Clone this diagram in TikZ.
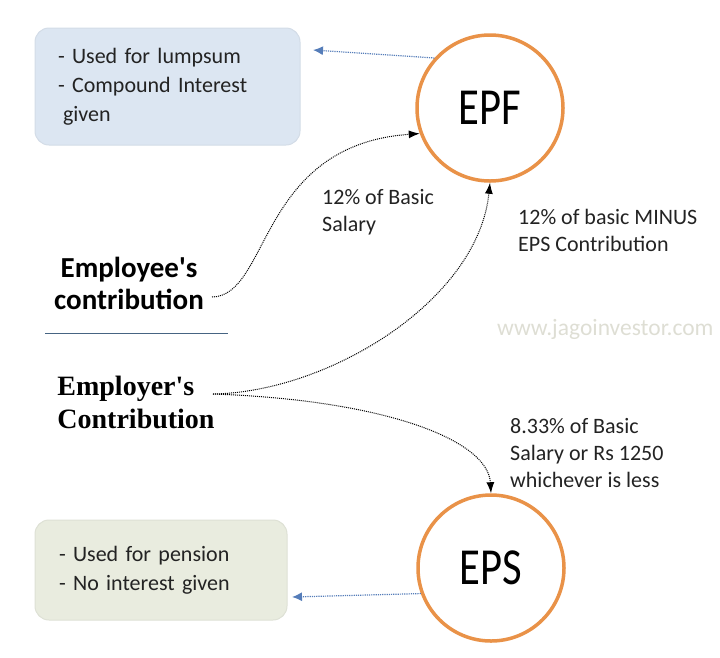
\documentclass[tikz,border=0pt]{standalone}
\usepackage{fontspec}
\setmainfont{Carlito}
\newfontfamily\serifb{Liberation Serif}
\newfontfamily\narrow[FakeStretch=0.82]{Carlito}
\usetikzlibrary{arrows.meta}
\definecolor{ring}{RGB}{233,146,72}
\definecolor{bluebox}{RGB}{220,230,242}
\definecolor{greenbox}{RGB}{233,236,223}
\definecolor{bluearrow}{RGB}{85,125,185}
\definecolor{rule}{RGB}{70,100,130}
\definecolor{wm}{RGB}{222,222,212}
\definecolor{txt}{RGB}{35,35,35}
\tikzset{
  fund/.style={circle,draw=ring,line width=3.5pt,minimum size=146pt,inner sep=0pt,font=\narrow\fontsize{52}{52}\selectfont},
  infobox/.style={rounded corners=14pt,fill=#1,draw=#1!90!gray,line width=1pt,align=left,inner sep=0pt,text=txt,font=\fontsize{22}{29}\selectfont},
  lbl/.style={anchor=north west,align=left,inner sep=0pt,text=txt,font=\fontsize{22}{27}\selectfont},
  flow/.style={densely dotted,line width=1pt,-{Latex[length=11pt,width=8pt]}},
  note/.style={densely dotted,line width=1.2pt,bluearrow,-{Latex[length=10pt,width=9pt]}},
}
\begin{document}
\begin{tikzpicture}[x=1pt,y=-1pt]
\useasboundingbox (0,0) rectangle (720,657);
% circles
\node[fund] (epf) at (490,108) {EPF};
\node[fund] (eps) at (491,568) {EPS};
% info boxes
\node[infobox=bluebox,minimum width=265pt,minimum height=117pt,text width=219pt] (box1) at (167.5,86.5)
  {- Used for lumpsum\\- Compound Interest\\\hspace*{5pt}given};
\node[infobox=greenbox,minimum width=252pt,minimum height=100pt,text width=204pt] (box2) at (161,570)
  {- Used for pension\\- No interest given};
% contributions
\node[align=center,inner sep=0pt,font=\bfseries\fontsize{29}{32}\selectfont] (emp) at (129,283) {Employee\textquotesingle s\\contribution};
\node[align=left,inner sep=0pt,font=\serifb\bfseries\fontsize{28}{33}\selectfont] (empr) at (136,402) {Employer\textquotesingle s\\Contribution};
\coordinate (sep1) at (45,333);
\coordinate (sep2) at (228,333);
\draw[rule,line width=1pt] (sep1) -- (sep2);
\coordinate (empOut) at (212,297);
\coordinate (emprOut) at (213,394);
% flows
\draw[flow] (empOut) .. controls (270,296) and (258,145) .. (epf.200);
\draw[flow] (emprOut) .. controls (330,392) and (478,300) .. (epf.south);
\draw[flow] (emprOut) .. controls (385,400) and (488,440) .. (eps.north);
% notes
\coordinate (tip1) at (313,50);
\coordinate (tip2) at (292,597);
\draw[note] (epf.138) -- (tip1);
\draw[note] (eps.200) -- (tip2);
% labels
\node[lbl] (l1) at (322,189) {12\% of Basic\\Salary};
\node[lbl] (l2) at (518,209) {12\% of basic MINUS\\EPS Contribution};
\node[lbl] (l3) at (510,418) {8.33\% of Basic\\Salary or Rs 1250\\whichever is less};
\node[anchor=west,inner sep=0pt,text=wm,font=\fontsize{23.5}{23.5}\selectfont] (wmk) at (497,329) {www.jagoinvestor.com};
\end{tikzpicture}
\end{document}
